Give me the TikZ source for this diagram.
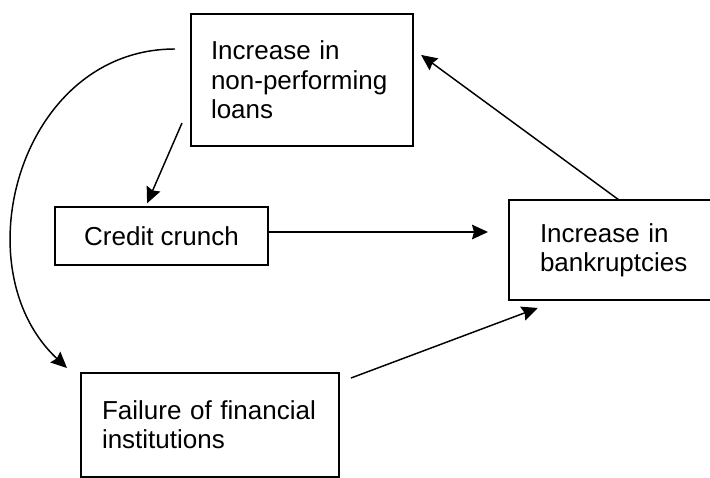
\documentclass[tikz,border=0pt]{standalone}
\usepackage{fontspec}
\setmainfont{Liberation Sans}
\usepackage{tikz}
\usetikzlibrary{arrows.meta, calc}

\begin{document}
\begin{tikzpicture}[x=0.75pt, y=-0.75pt,
   font=\fontsize{19.5}{22}\selectfont,
   box/.style={draw, line width=1.1pt, inner ysep=0pt, outer sep=0pt, align=left},
   arr/.style={line width=1.1pt, -{Stealth[length=12pt, width=11pt, inset=1.5pt]}}]
\useasboundingbox (0,0) rectangle (710,478);

\node[box, minimum width=166.5pt, minimum height=99pt, inner xsep=15pt, text width=136.5pt] (npl) at (302,80) {Increase in\\non-performing\\loans};
\node[box, minimum width=159.75pt, minimum height=43.5pt, align=center] (crunch) at (161.5,236) {Credit crunch};
\node[box, minimum width=180pt, minimum height=75pt, inner xsep=23.25pt, text width=133.5pt] (bankr) at (629,250) {Increase in\\bankruptcies};
\node[box, minimum width=193.5pt, minimum height=78pt, inner xsep=15.75pt, text width=162pt] (failure) at (210,425) {Failure of financial\\institutions};

\coordinate (nplout) at (182,123);
\coordinate (loopstart) at (175,49);

\draw[arr, shorten >=3pt] (nplout) -- ($(crunch.north)+(-16,0)$);
\draw[arr, shorten >=15.75pt] ($(crunch.east)+(0,-4)$) -- ($(bankr.west)+(0,-18)$);
\draw[arr, shorten >=7.5pt] ($(bankr.north)+(-10,0)$) -- ($(npl.east)+(0,-31)$);
\draw[arr, shorten <=9.6pt, shorten >=17pt] ($(failure.east)+(0,-42.5)$) -- ($(bankr.south)+(-70,0)$);
\draw[arr] (loopstart) .. controls (20,49) and (-40,268) .. ($(failure.north west)+(-14,-5)$);

\end{tikzpicture}
\end{document}
